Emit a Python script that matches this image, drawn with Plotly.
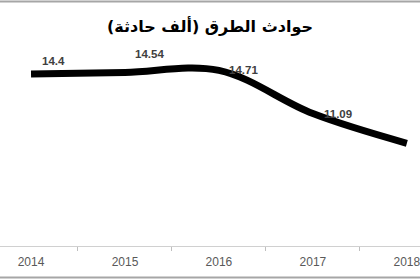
import plotly.graph_objects as go

years = ["2014", "2015", "2016", "2017", "2018"]
accidents = [14.4, 14.54, 14.71, 11.09, 8.6]
labels = ["14.4", "14.54", "14.71", "11.09", "8.6"]
title_text = "حوادث الطرق (ألف حادثة)"

label_xshift = [22, 25, 25, 25, 25]
label_yshift = [13, 18, 0, 0, 0]

fig = go.Figure()
fig.add_trace(go.Scatter(
    x=years, y=accidents, mode="lines",
    line=dict(color="#000000", width=7, shape="spline", smoothing=1.0),
    hoverinfo="skip", showlegend=False,
))

for i, (v, t) in enumerate(zip(accidents, labels)):
    fig.add_annotation(x=i, y=v, text="<b>%s</b>" % t, showarrow=False,
                       xshift=label_xshift[i], yshift=label_yshift[i],
                       font=dict(family="Liberation Sans, Arial", size=11.5, color="#404040"))

fig.update_layout(
    width=420, height=280,
    margin=dict(l=0, r=0, t=55, b=34),
    paper_bgcolor="white", plot_bgcolor="white",
    title=dict(text="<b>%s</b>" % title_text, x=0.5, xanchor="center",
               y=1 - 26 / 280, yanchor="middle", yref="container",
               font=dict(family="DejaVu Sans", size=16, color="#000000")),
    xaxis=dict(type="category", range=[-0.33, 4.14], tickson="boundaries",
               ticks="outside", ticklen=4, tickcolor="#bfbfbf",
               showline=True, linecolor="#d0d0d0", linewidth=1,
               showgrid=False, zeroline=False, ticklabelstandoff=5,
               tickfont=dict(family="Liberation Sans, Arial", size=12, color="#595959")),
    yaxis=dict(range=[0, 16], visible=False, showgrid=False, zeroline=False),
    shapes=[
        dict(type="line", xref="paper", yref="paper", x0=0, x1=1,
             y0=(246 - 1.5) / 191, y1=(246 - 1.5) / 191,
             line=dict(color="#a6a6a6", width=2)),
        dict(type="line", xref="paper", yref="paper", x0=0, x1=1,
             y0=(246 - 277.5) / 191, y1=(246 - 277.5) / 191,
             line=dict(color="#a6a6a6", width=2)),
    ],
)

fig.write_html("out.html")
